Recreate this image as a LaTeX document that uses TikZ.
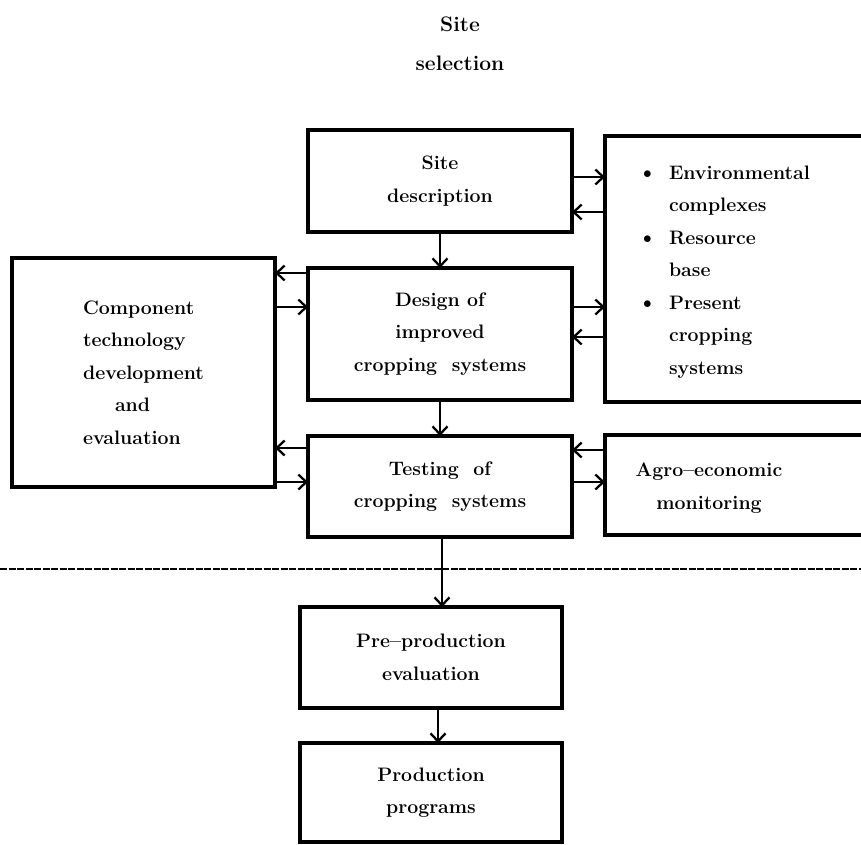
\documentclass[tikz,border=0pt]{standalone}
\usetikzlibrary{arrows.meta}
\newcommand\diagfont{\fontsize{19.5}{32.5}\selectfont\bfseries}
\newcommand\diagtitlefont{\fontsize{21}{39}\selectfont\bfseries}
\newcommand\diagbullet{\makebox[26pt][l]{\raisebox{0.5pt}{\fontsize{16}{16}\selectfont$\bullet$}}}
\begin{document}
\begin{tikzpicture}[x=1pt,y=-1pt,
  box/.style={draw, line width=3.4pt, rectangle, inner sep=0pt, outer sep=0pt, font=\diagfont, align=center},
  lbl/.style={font=\diagfont, inner sep=0pt, outer sep=0pt},
  arr/.style={line width=2.3pt, -{Straight Barb[length=8pt,width=15pt]}},
  sepline/.style={line width=2pt, dash pattern=on 7pt off 1.5pt}
]
\useasboundingbox (0,0) rectangle (861,844);
\clip (0,0) rectangle (861,844);

% title
\node[font=\diagtitlefont, align=center, inner sep=0pt] (title) at (460,44) {Site\\selection};

% boxes
\node[box, minimum width=264pt, minimum height=102pt] (sd) at (440,181) {Site\\description};
\node[box, minimum width=275pt, minimum height=266pt] (rb) at (742.5,269) {};
\node[lbl, align=left, anchor=west] (rbt) at (643,272) {%
\diagbullet Environmental\\
\hspace*{26pt}complexes\\
\diagbullet Resource\\
\hspace*{26pt}base\\
\diagbullet Present\\
\hspace*{26pt}cropping\\
\hspace*{26pt}systems};
\node[box, minimum width=264pt, minimum height=132pt] (ds) at (440,334) {Design of\\improved\\cropping\ \ systems};
\node[box, minimum width=263pt, minimum height=229pt, align=left] (cl) at (143.5,372.5) {Component\\technology\\development\\\hspace*{32pt}and\\evaluation};
\node[box, minimum width=264pt, minimum height=101pt] (ts) at (440,486.5) {Testing\ \ of\\cropping\ \ systems};
\node[box, minimum width=275pt, minimum height=100pt] (ag) at (742.5,485) {};
\node[lbl, align=center] (agt) at (709,488) {Agro--economic\\monitoring};
\node[box, minimum width=262pt, minimum height=101pt] (pp) at (431,657.5) {Pre--production\\evaluation};
\node[box, minimum width=262pt, minimum height=99pt] (pr) at (431,792.5) {Production\\programs};

% helper levels
\coordinate (a1) at (0,177);
\coordinate (a2) at (0,212);
\coordinate (a3) at (0,307);
\coordinate (a4) at (0,337);
\coordinate (a5) at (0,273);
\coordinate (a7) at (0,448);
\coordinate (a8) at (0,482);
\coordinate (a9) at (0,450);
\coordinate (v1) at (442,0);
\coordinate (v2) at (438,0);
\coordinate (dl) at (0,569);
\coordinate (dr) at (861,569);

% connectors
\draw[arr] (sd.east |- a1) -- (rb.west |- a1);
\draw[arr] (rb.west |- a2) -- (sd.east |- a2);
\draw[arr] (sd.south) -- (ds.north);
\draw[arr] (ds.east |- a3) -- (rb.west |- a3);
\draw[arr] (rb.west |- a4) -- (ds.east |- a4);
\draw[arr] (ds.west |- a5) -- (cl.east |- a5);
\draw[arr] (cl.east |- a3) -- (ds.west |- a3);
\draw[arr] (ds.south) -- (ts.north);
\draw[arr] (ts.west |- a7) -- (cl.east |- a7);
\draw[arr] (cl.east |- a8) -- (ts.west |- a8);
\draw[arr] (ag.west |- a9) -- (ts.east |- a9);
\draw[arr] (ts.east |- a8) -- (ag.west |- a8);
\draw[arr] (ts.south -| v1) -- (pp.north -| v1);
\draw[arr] (pp.south -| v2) -- (pr.north -| v2);

% separator
\draw[sepline] (dl) -- (dr);
\end{tikzpicture}
\end{document}
